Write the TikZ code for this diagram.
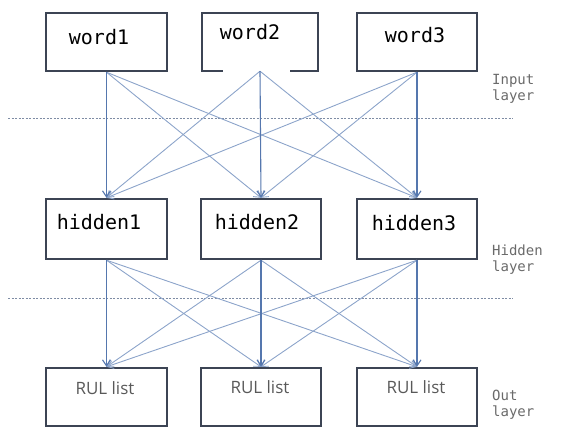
\documentclass[tikz,border=0pt]{standalone}
\usepackage{fontspec}
\setmainfont{DejaVu Sans}
\newfontfamily\boxfont{DejaVu Sans Mono}
\newfontfamily\rulfont{Open Sans}
\usetikzlibrary{arrows.meta}
\definecolor{boxc}{HTML}{3C4454}
\definecolor{vline}{HTML}{5577AE}
\definecolor{dline}{HTML}{8CA4CA}
\definecolor{dashc}{HTML}{7E8CA4}
\definecolor{labc}{HTML}{6A6A6A}
\tikzset{
  nbox/.style={draw=boxc, line width=2.4pt, minimum height=58pt, inner sep=0pt},
  nobox/.style={draw=none, minimum height=58pt, inner sep=0pt},
  wtext/.style={anchor=base, inner sep=0pt, font=\boxfont\fontsize{20}{24}\selectfont},
  rtext/.style={anchor=base, inner sep=0pt, text=black!65, font=\rulfont\fontsize{17}{20}\selectfont},
  ltext/.style={anchor=base west, inner sep=0pt, text=labc, font=\boxfont\fontsize{14}{16}\selectfont},
  conn/.style={draw=dline, line width=0.9pt, -{Straight Barb[length=6pt,width=8pt]}},
  vert/.style={draw=vline, line width=1.1pt, -{Straight Barb[length=6pt,width=8pt]}},
  sep/.style={draw=dashc, line width=0.7pt, dash pattern=on 2pt off 1.5pt}
}
\begin{document}
\begin{tikzpicture}[x=1pt,y=-1pt]
\useasboundingbox (0,0) rectangle (564,427);
% separators
\coordinate (s1a) at (8,118); \coordinate (s1b) at (513,118);
\coordinate (s2a) at (8,298); \coordinate (s2b) at (513,298);
\draw[sep] (s1a) -- (s1b);
\draw[sep] (s2a) -- (s2b);
% input boxes
\node[nbox, minimum width=121pt] (w1) at (106.5,42) {};
\node[nobox, minimum width=116pt] (w2) at (260,42) {};
\draw[draw=boxc, line width=2.4pt] ([xshift=21pt]w2.south west) -- (w2.south west) -- (w2.north west) -- (w2.north east) -- (w2.south east) -- ([xshift=-28pt]w2.south east);
\node[nbox, minimum width=120pt] (w3) at (417,42) {};
% hidden boxes
\node[nbox, minimum width=121pt, minimum height=60pt] (h1) at (106.5,229) {};
\node[nbox, minimum width=120pt, minimum height=60pt] (h2) at (261,229) {};
\node[nbox, minimum width=120pt, minimum height=60pt] (h3) at (417,229) {};
% output boxes
\node[nbox, minimum width=121pt] (r1) at (106.5,397) {};
\node[nbox, minimum width=120pt] (r2) at (261,397) {};
\node[nbox, minimum width=120pt] (r3) at (417,397) {};
% texts
\node[wtext] (tw1) at (99,45) {word1};
\node[wtext] (tw2) at (250,40) {word2};
\node[wtext] (tw3) at (415,43) {word3};
\node[wtext] (th1) at (99,230) {hidden1};
\node[wtext] (th2) at (257,230) {hidden2};
\node[wtext] (th3) at (414,231) {hidden3};
\node[rtext] (tr1) at (105,394) {RUL list};
\node[rtext] (tr2) at (260,393) {RUL list};
\node[rtext] (tr3) at (416,393) {RUL list};
% layer labels
\node[ltext] (li1) at (492,85) {Input};
\node[ltext] (li2) at (492,101) {layer};
\node[ltext] (lh1) at (492,256) {Hidden};
\node[ltext] (lh2) at (492,272) {layer};
\node[ltext] (lo1) at (492,400) {Out};
\node[ltext] (lo2) at (492,416) {layer};
% connections
\foreach \i/\j in {1/2,1/3,2/1,2/3,3/1,3/2}{
  \draw[conn] (w\i.south) -- (h\j.north);
  \draw[conn] (h\i.south) -- (r\j.north);
}
\foreach \i in {1,2,3}{
  \draw[vert] (w\i.south) -- (h\i.north);
  \draw[vert] (h\i.south) -- (r\i.north);
}
\end{tikzpicture}
\end{document}
